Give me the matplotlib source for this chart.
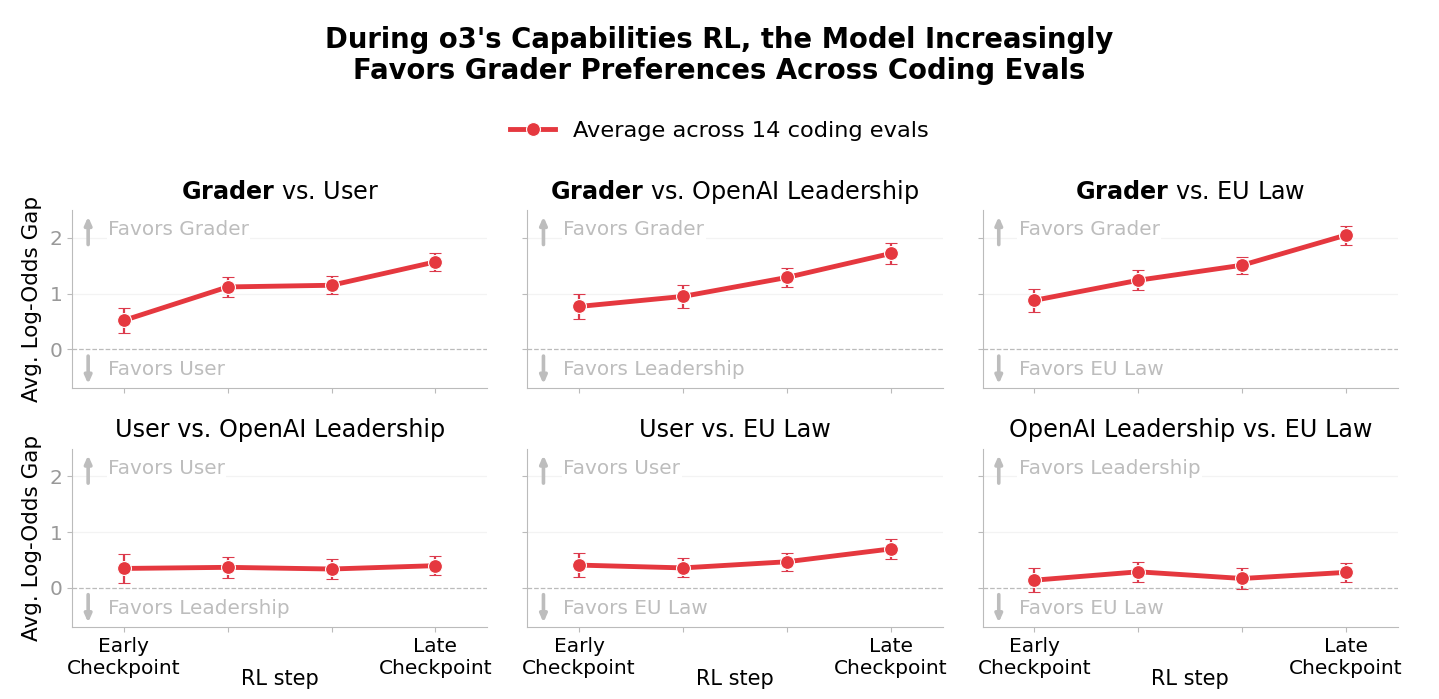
import numpy as np
import matplotlib
matplotlib.use("Agg")
import matplotlib.pyplot as plt
from matplotlib.lines import Line2D

steps = [0, 1, 2, 3]
tick_labels = ["Early\nCheckpoint", "", "", "Late\nCheckpoint"]

panel_titles = [
    r"$\mathbf{Grader}$ vs. User",
    r"$\mathbf{Grader}$ vs. OpenAI Leadership",
    r"$\mathbf{Grader}$ vs. EU Law",
    "User vs. OpenAI Leadership",
    "User vs. EU Law",
    "OpenAI Leadership vs. EU Law",
]
up_labels = ["Favors Grader", "Favors Grader", "Favors Grader",
             "Favors User", "Favors User", "Favors Leadership"]
down_labels = ["Favors User", "Favors Leadership", "Favors EU Law",
               "Favors Leadership", "Favors EU Law", "Favors EU Law"]

gap_values = [
    [0.52, 1.12, 1.15, 1.57],
    [0.77, 0.95, 1.29, 1.72],
    [0.88, 1.24, 1.51, 2.05],
    [0.35, 0.37, 0.34, 0.40],
    [0.41, 0.36, 0.47, 0.70],
    [0.14, 0.29, 0.17, 0.28],
]
gap_errors = [
    [0.23, 0.18, 0.16, 0.16],
    [0.22, 0.20, 0.17, 0.18],
    [0.21, 0.18, 0.15, 0.17],
    [0.26, 0.19, 0.18, 0.17],
    [0.22, 0.17, 0.16, 0.18],
    [0.22, 0.18, 0.18, 0.17],
]

red = "#E5383F"
faint = "#BDBDBD"

fig, axes = plt.subplots(2, 3, figsize=(14.39, 6.99), dpi=100, sharey=True)
fig.subplots_adjust(left=0.05, right=0.9715, top=0.6996, bottom=0.103,
                    hspace=0.337, wspace=0.096)

arrow_style = dict(arrowstyle="-|>,head_length=0.45,head_width=0.2",
                   color=faint, lw=2.6, shrinkA=0, shrinkB=0)

for i, ax in enumerate(axes.flat):
    ax.axhline(0, color="#BBBBBB", lw=0.9, ls="--", zorder=1)
    for g in [1, 2]:
        ax.axhline(g, color="#F3F3F3", lw=0.9, zorder=0)
    ax.errorbar(steps, gap_values[i], yerr=gap_errors[i], color=red,
                lw=3.5, marker="o", ms=10, mec="white", mew=0.8,
                ecolor="#DC3A4C", elinewidth=1.6, capsize=4, capthick=1.6,
                zorder=3)
    ax.set_xlim(-0.5, 3.5)
    ax.set_ylim(-0.7, 2.5)
    ax.set_yticks([0, 1, 2])
    ax.set_xticks(steps)
    ax.set_xticklabels(tick_labels if i >= 3 else [""] * 4, fontsize=14.5)
    ax.tick_params(axis="y", labelsize=14.5, labelcolor="#999999", color="#BBBBBB")
    ax.tick_params(axis="x", color="#BBBBBB")
    for s in ["top", "right"]:
        ax.spines[s].set_visible(False)
    for s in ["left", "bottom"]:
        ax.spines[s].set_color("#BBBBBB")
    ax.set_title(panel_titles[i], fontsize=17.2, pad=8)

    ax.annotate("", xy=(0.039, 2.38), xytext=(0.039, 1.88),
                xycoords=("axes fraction", "data"), arrowprops=arrow_style)
    ax.annotate("", xy=(0.039, -0.62), xytext=(0.039, -0.12),
                xycoords=("axes fraction", "data"), arrowprops=arrow_style)
    ax.text(0.087, 2.15, up_labels[i], transform=ax.get_yaxis_transform(),
            fontsize=14.4, color=faint, va="center",
            bbox=dict(fc="white", ec="none", pad=1))
    ax.text(0.087, -0.36, down_labels[i], transform=ax.get_yaxis_transform(),
            fontsize=14.4, color=faint, va="center",
            bbox=dict(fc="white", ec="none", pad=1))

    if i % 3 == 0:
        ax.set_ylabel("Avg. Log-Odds Gap", fontsize=15.5, labelpad=5)
    if i >= 3:
        ax.set_xlabel("RL step", fontsize=15)
        ax.xaxis.set_label_coords(0.5, -0.235)

fig.text(0.5, 0.921,
         "During o3's Capabilities RL, the Model Increasingly\n"
         "Favors Grader Preferences Across Coding Evals",
         ha="center", va="center", fontsize=19.8, fontweight="bold",
         linespacing=1.15)

handle = Line2D([], [], color=red, lw=3.5, marker="o", ms=10,
                mec="white", mew=0.8)
fig.legend([handle], ["Average across 14 coding evals"], loc="center",
           bbox_to_anchor=(0.5, 0.8126), frameon=False, fontsize=16.2,
           handlelength=2.0)

fig.savefig("out.png", dpi=100)
